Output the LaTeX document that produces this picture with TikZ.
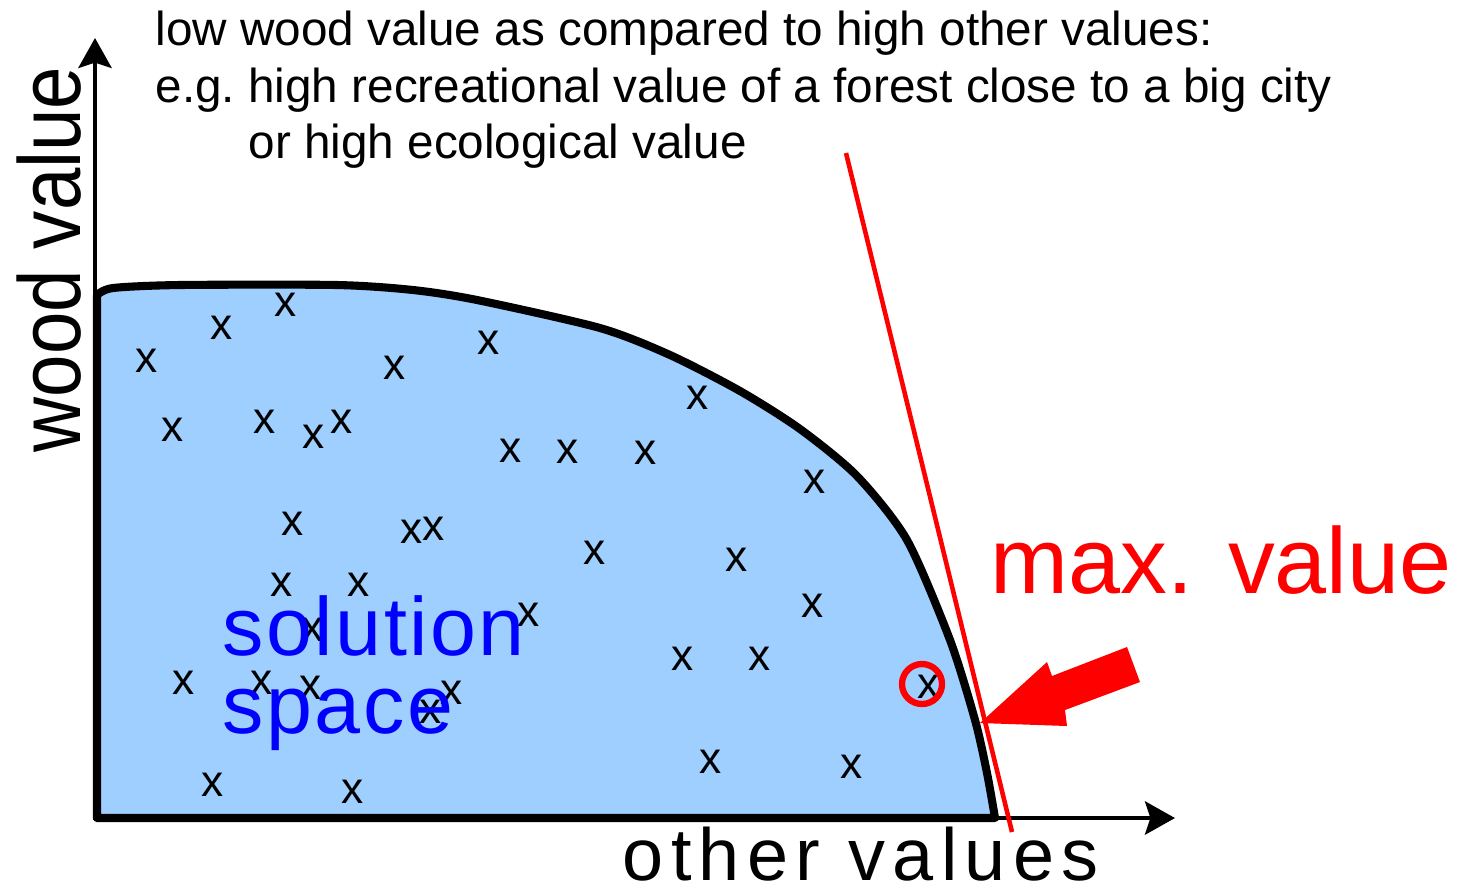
\documentclass[tikz,border=0pt]{standalone}
\usepackage{fontspec}
\setmainfont{Liberation Sans}
\newfontfamily\spacedfont[LetterSpace=10]{Liberation Sans}
\newfontfamily\solfont[LetterSpace=3]{Liberation Sans}
\usetikzlibrary{arrows.meta}

\definecolor{solblue}{RGB}{159,207,255}

\begin{document}
\begin{tikzpicture}[
  x=0.01cm, y=-0.01cm,
  txt/.style={inner sep=0pt,anchor=base west,font=\fontsize{13.55pt}{16pt}\selectfont},
  xmark/.style={inner sep=0pt,font=\fontsize{12.6pt}{14pt}\selectfont},
  axis/.style={line width=1.4pt,-{Stealth[length=8.5pt,width=9.4pt,inset=1.5pt]}},
  border/.style={line width=2.3pt,line join=round},
  tangent/.style={red,line width=1.3pt}]

 \useasboundingbox (0,0) rectangle (1464,890);

 % ---- solution space ----
 \fill[solblue] (97,818) -- plot[smooth,tension=0.45] coordinates {(97,295) (113,288) (180,285) (337,285) (413,290) (477,300) (600,328) (670,355) (740,391) (800,429) (857,476) (907,540) (950,640) (975,720) (987,773) (995,818)}
   -- cycle;
 \draw[border] (97,818) -- plot[smooth,tension=0.45] coordinates {(97,295) (113,288) (180,285) (337,285) (413,290) (477,300) (600,328) (670,355) (740,391) (800,429) (857,476) (907,540) (950,640) (975,720) (987,773) (995,818)}
   -- cycle;

 % ---- axes ----
 \coordinate (O) at (95,818);
 \coordinate (ytip) at (95,38);
 \coordinate (xtip) at (1175,818);
 \draw[axis] (O) -- (ytip);
 \draw[axis] (93,818) -- (xtip);

 \node[inner sep=0pt,anchor=base west,rotate=90,font=\fontsize{25pt}{28pt}\selectfont] (ylab) at (80,453) {\scalebox{0.867}[1]{wood value}};
 \node[inner sep=0pt,anchor=base west,font=\fontsize{21pt}{24pt}\spacedfont] (xlab) at (622,880) {other values};

 % ---- caption ----
 \node[txt] (c1) at (155,45) {low wood value as compared to high other values:};
 \node[txt] (c2) at (155,102) {e.g.\ high recreational value of a forest close to a big city};
 \node[txt] (c3) at (248,158) {or high ecological value};

 % ---- solutions ----
 \foreach \px/\py [count=\i] in {286/305, 222/328, 147/361, 395/368, 489/343, 698/398,
   173/430, 265/422, 314/437, 342/422, 511/451, 568/452, 646/453, 815/482,
   293/524, 412/532, 434/529, 595/553, 737/560, 282/585, 359/585, 813/606,
   313/630, 529/615, 683/659, 760/659, 184/683, 262/683, 311/688, 452/693,
   431/712, 213/785, 353/792, 711/762, 852/767}
   \node[xmark] (s\i) at (\px,\py) {x};
 \node[xmark] (best) at (929,687) {x};
 \draw[red,line width=1.8pt] (best.center) ++(-7,-3) circle[radius=20];

 \node[inner sep=0pt,anchor=base west,blue,font=\fontsize{23.5pt}{22pt}\solfont] (sol) at (222,655) {solution};
 \node[inner sep=0pt,anchor=base west,blue,font=\fontsize{23.5pt}{22pt}\solfont] (spc) at (222,733) {space};

 % ---- max value ----
 \draw[tangent] (846,153) -- (1012,832);
 \coordinate (tp) at (980,723);
 \fill[red] (tp) -- (1047,662) -- (1052,676) -- (1127,647) -- (1140,682) -- (1065,710) -- (1067,726) -- cycle;
 \node[inner sep=0pt,anchor=base west,red,font=\fontsize{26.6pt}{30pt}\selectfont] (mv) at (990,593) {max. value};
\end{tikzpicture}
\end{document}
